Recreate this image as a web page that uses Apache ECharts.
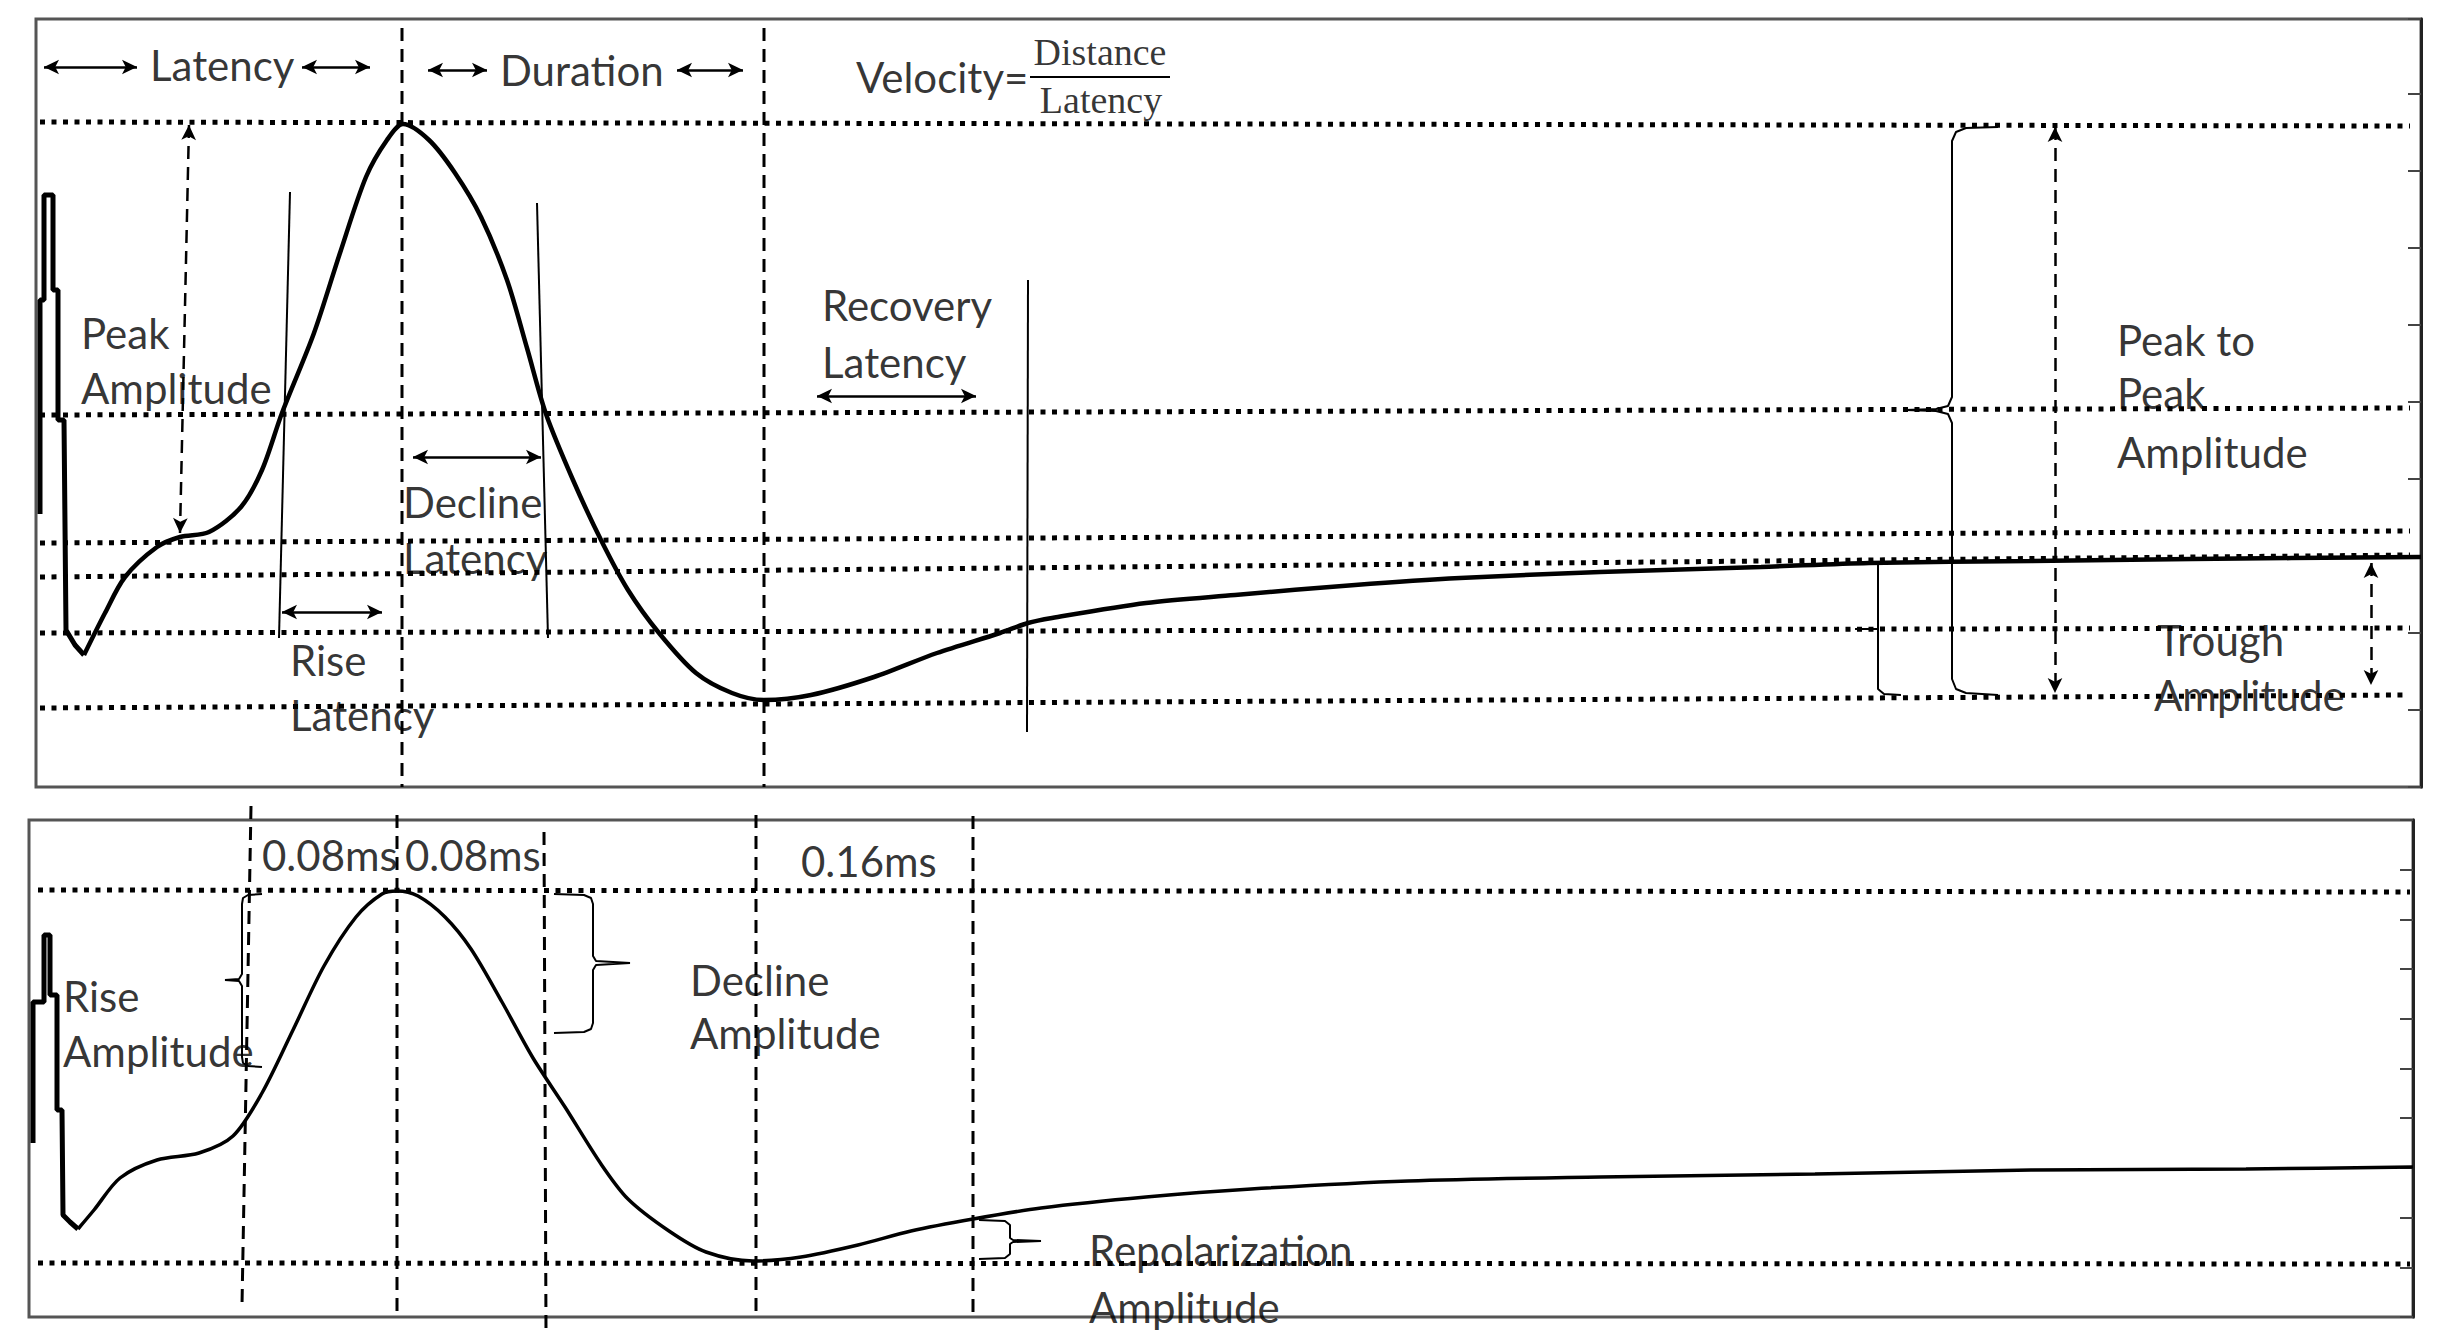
<!DOCTYPE html>
<html>
<head>
<meta charset="utf-8">
<script src="https://cdn.jsdelivr.net/npm/echarts@6/dist/echarts.min.js"></script>
<style>
html,body{margin:0;padding:0;background:#fff}
#chart{width:2444px;height:1343px}
</style>
</head>
<body>
<div id="chart"></div>
<script>
// 上面板：刺激伪迹 + 动作电位波形 (x: 时间单位, y: 幅值单位)
const topArtifact=[[4,273],[4,487],[8,487],[8,592],[17,592],[17,497],[22,497],[22,367],[28,367],[30,157],[39,142],[48,132]];
const topWave=[[48,132],[69,174],[89,210],[121,240],[144,250],[173,255],[205,280],[226,317],[246,374],[278,454],[304,534],[330,610],[351,647],[367,663],[393,647],[419,614],[445,570],[471,507],[491,439],[510,373],[537,307],[565,247],[592,197],[623,154],[660,114],[696,94],[728,87],[775,92],[838,110],[901,134],[964,154],[992,164],[1016,169],[1110,184],[1199,192],[1319,202],[1424,209],[1564,215],[1725,220],[1833,224],[1995,226],[2156,228],[2385,230]];

// 下面板波形
const bottomArtifact=[[4,174],[4,315],[15,315],[15,382],[21,382],[21,322],[28,322],[28,207],[33,207],[34,102],[41,95],[49,88]];
const bottomWave=[[49,88],[65,107],[91,139],[128,157],[170,164],[204,181],[233,224],[264,287],[295,351],[327,400],[353,423],[368,426],[389,421],[416,400],[442,368],[473,315],[504,259],[536,210],[572,153],[599,118],[640,86],[677,65],[724,56],[772,60],[829,72],[882,86],[944,98],[1012,109],[1117,120],[1222,128],[1379,136],[1571,140],[1786,143],[2002,147],[2217,148],[2384,150]];

// 点线参考水平 [x1,y1,x2,y2]
const topLevels=[[4,665,2374,661],[4,372,2374,379],[4,244,2374,256],[4,210,2374,232],[4,154,2374,159],[4,79,2368,92]];
const bottomLevels=[[9,427,2381,425],[9,54,2381,53]];

// 虚线竖线
const topDashed=[[366,759,366,0],[728,759,728,0]];
const bottomDashed=[[222,511,213,12],[368,502,368,1],[515,485,517,-14],[727,502,727,5],[944,501,944,3]];

// 细实线
const topGuides=[[254,595,243,149],[501,584,512,149],[992,507,991,55],[994,710,1134,710]];

// 双向箭头
const topArrows=[[8,720,101,720],[266,720,334,720],[392,717,451,717],[641,717,707,717],[377,330,505,330],[246,175,346,175],[781,391,940,391]];
const topDashedArrows=[[153,662,144,254],[2019,660,2019,94],[2335,224,2335,102]];

// 大括号
const topBraces=[
    [[1962,660],[1930,659],[1920,655],[1916,646],[1916,390],[1912,381],[1900,378],[1869,377],[1900,376],[1912,373],[1916,364],[1916,108],[1920,98],[1930,94],[1962,92]],
    [[1842,224],[1842,158],[1819,158],[1842,158],[1842,98],[1848,93],[1865,92]]
];
const bottomBraces=[
    [[233,423],[219,422],[214,419],[213,413],[213,343],[210,338],[196,337],[210,336],[213,331],[213,260],[214,254],[219,251],[233,250]],
    [[525,423],[555,422],[562,419],[564,413],[564,361],[567,356],[601,354],[567,352],[564,347],[564,294],[562,288],[555,285],[525,284]],
    [[950,97],[976,96],[981,92],[981,79],[984,77],[1012,76],[984,75],[981,73],[981,63],[976,59],[950,58]]
];

// 文字标注 [x, y, text]
const topLabels=[[114,722,'Latency'],[464,717,'Duration'],[820,710,'Velocity='],
    [45,454,'Peak'],[45,399,'Amplitude'],[254,127,'Rise'],[254,72,'Latency'],
    [367,285,'Decline'],[367,229,'Latency'],[786,482,'Recovery'],[786,425,'Latency'],
    [2081,447,'Peak to'],[2081,394,'Peak'],[2081,335,'Amplitude'],
    [2121,147,'Trough'],[2118,92,'Amplitude']];
const topFraction=[[1064,735,'Distance'],[1065,687,'Latency']];
const bottomLabels=[[233,462,'0.08ms'],[376,462,'0.08ms'],[772,456,'0.16ms'],
    [34,321,'Rise'],[34,266,'Amplitude'],[661,337,'Decline'],[661,284,'Amplitude'],
    [1060,67,'Repolarization'],[1060,10,'Amplitude']];

const ink='#000';
const seg=a=>[{coord:[a[0],a[1]]},{coord:[a[2],a[3]]}];

// 带箭头的线段（markLine）
function arrowSet(gi,segs,style){
    return {
        type:'line',xAxisIndex:gi,yAxisIndex:gi,data:[],clip:false,silent:true,
        markLine:{
            silent:true,symbol:['arrow','arrow'],symbolSize:[11,15],
            label:{show:false},emphasis:{disabled:true},
            lineStyle:style,data:segs.map(seg)
        }
    };
}
// 普通线段：每段一个 line 系列
function segLines(gi,segs,style){
    return segs.map(a=>({
        type:'line',xAxisIndex:gi,yAxisIndex:gi,data:[[a[0],a[1]],[a[2],a[3]]],
        symbol:'none',clip:false,silent:true,lineStyle:style,z:3
    }));
}
function trace(gi,pts,width,smooth){
    return {type:'line',xAxisIndex:gi,yAxisIndex:gi,data:pts,showSymbol:false,symbol:'none',
        smooth:smooth,clip:false,silent:true,lineStyle:{color:ink,width:width},z:5};
}
function labels(gi,list,font,pos){
    return {type:'scatter',xAxisIndex:gi,yAxisIndex:gi,symbolSize:0,silent:true,clip:false,
        data:list.map(l=>({value:[l[0],l[1]],name:l[2]})),
        label:{show:true,formatter:'{b}',position:pos,distance:0,color:ink,
            fontFamily:font.family,fontSize:font.size},z:10};
}

const sans={family:'Lato',size:42};
const serif={family:'Liberation Serif',size:38};
const dotted={color:ink,width:5,type:[5,6.5],cap:'butt'};
const dashed={color:ink,width:3,type:[13,8]};
const thin={color:ink,width:2,type:'solid'};
const arrow={color:ink,width:2.5,type:'solid'};

let series=[];
// 上面板
series=series.concat(segLines(0,topLevels,dotted));
series=series.concat(segLines(0,topDashed,dashed));
series=series.concat(segLines(0,topGuides,thin));
series.push(arrowSet(0,topArrows,arrow));
series.push(arrowSet(0,topDashedArrows,{color:ink,width:2.5,type:[13,8]}));
topBraces.forEach(b=>series.push(trace(0,b,2,false)));
series.push(trace(0,topArtifact,5,false));
series.push(trace(0,topWave,4.5,0.3));
series.push(labels(0,topLabels,sans,'right'));
series.push(labels(0,topFraction,serif,'inside'));
// 下面板
series=series.concat(segLines(1,bottomLevels,dotted));
series=series.concat(segLines(1,bottomDashed,dashed));
bottomBraces.forEach(b=>series.push(trace(1,b,2,false)));
series.push(trace(1,bottomArtifact,5,false));
series.push(trace(1,bottomWave,3.5,0.3));
series.push(labels(1,bottomLabels,sans,'right'));

function rightAxis(gi,max,interval){
    return {gridIndex:gi,type:'value',min:0,max:max,interval:interval,position:'right',
        axisLine:{show:true,onZero:false,lineStyle:{color:'#222',width:3}},
        axisTick:{show:true,inside:true,length:13,lineStyle:{color:'#444',width:2}},
        axisLabel:{show:false},splitLine:{show:false}};
}

const chart=echarts.init(document.getElementById('chart'),null,{renderer:'svg'});
const option={
    animation:false,
    backgroundColor:'#fff',
    grid:[
        {left:36,top:19,width:2385,height:768,show:true,borderColor:'#555',borderWidth:3},
        {left:29,top:820,width:2384,height:497,show:true,borderColor:'#555',borderWidth:3}
    ],
    xAxis:[
        {gridIndex:0,type:'value',min:0,max:2385,show:false},
        {gridIndex:1,type:'value',min:0,max:2384,show:false}
    ],
    yAxis:[rightAxis(0,768,77),rightAxis(1,497,49.7)],
    series:series
};
chart.setOption(option);
window.addEventListener('resize',()=>chart.resize());
</script>
</body>
</html>
